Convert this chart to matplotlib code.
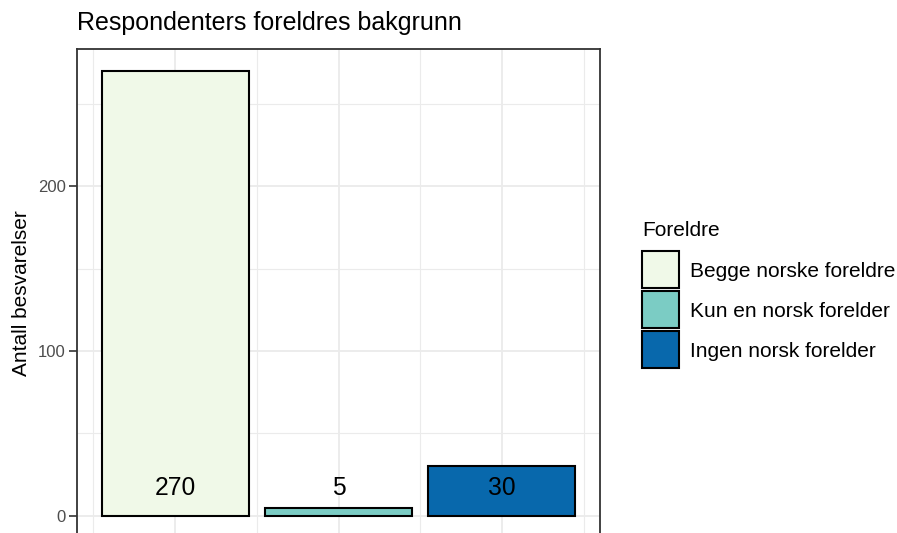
import matplotlib
matplotlib.use("Agg")
import matplotlib.pyplot as plt
from matplotlib.patches import Rectangle
from matplotlib.ticker import MultipleLocator

plt.rcParams['font.family'] = ['Liberation Sans', 'DejaVu Sans']

categories = ["Begge norske foreldre", "Kun en norsk forelder", "Ingen norsk forelder"]
counts = [270, 5, 30]
colors = ["#F0F9E8", "#7BCCC4", "#0868AC"]
title = "Respondenters foreldres bakgrunn"
ylabel = "Antall besvarelser"
legend_title = "Foreldre"

W, H = 897, 533
fig = plt.figure(figsize=(W / 100, H / 100), dpi=100)

# panel in pixel coords (extends slightly below the figure bottom, as in the reference)
pl, pr, pt, pb = 77, 600, 49, 538
ax = fig.add_axes([pl / W, (H - pb) / H, (pr - pl) / W, (pb - pt) / H])

x = list(range(1, len(categories) + 1))
ax.bar(x, counts, width=0.9, color=colors, edgecolor="black", linewidth=1.5, zorder=3)
for xi, v in zip(x, counts):
    ax.text(xi, 17, str(v), ha="center", va="center", fontsize=17.7, color="black", zorder=4)

ymax = max(counts)
ax.set_xlim(0.4, len(categories) + 0.6)
ax.set_ylim(-0.05 * ymax, 1.05 * ymax)
ax.set_xticks(x)
ax.set_xticklabels([])
ax.xaxis.set_minor_locator(MultipleLocator(0.5))
ax.yaxis.set_major_locator(MultipleLocator(100))
ax.yaxis.set_minor_locator(MultipleLocator(50))
ax.grid(which="major", color="#EBEBEB", linewidth=1.3, zorder=0)
ax.grid(which="minor", color="#EBEBEB", linewidth=0.8, zorder=0)
ax.set_axisbelow(True)
for s in ax.spines.values():
    s.set_color("#333333")
    s.set_linewidth(1.3)
ax.tick_params(axis="both", which="major", color="#333333", length=6, width=1.2,
               labelsize=12, labelcolor="#4D4D4D", pad=2)
ax.tick_params(axis="both", which="minor", length=0)
ax.set_ylabel(ylabel, fontsize=15, color="black", labelpad=5)

fig.text(pl / W, 1 - 23 / H, title, fontsize=18, ha="left", va="center", color="black")

# legend
lx, ly0, ks = 642, 251, 37
fig.text(lx / W, 1 - 231 / H, legend_title, fontsize=15, ha="left", va="center")
for i, (lab, col) in enumerate(zip(categories, colors)):
    y = ly0 + i * (ks + 3)
    fig.patches.append(Rectangle((lx / W, 1 - (y + ks) / H), ks / W, ks / H,
                                 transform=fig.transFigure, facecolor=col,
                                 edgecolor="black", linewidth=1.5))
    fig.text(690 / W, 1 - (y + ks / 2 + 2) / H, lab, fontsize=15, ha="left", va="center")

fig.savefig("out.png", dpi=100)
